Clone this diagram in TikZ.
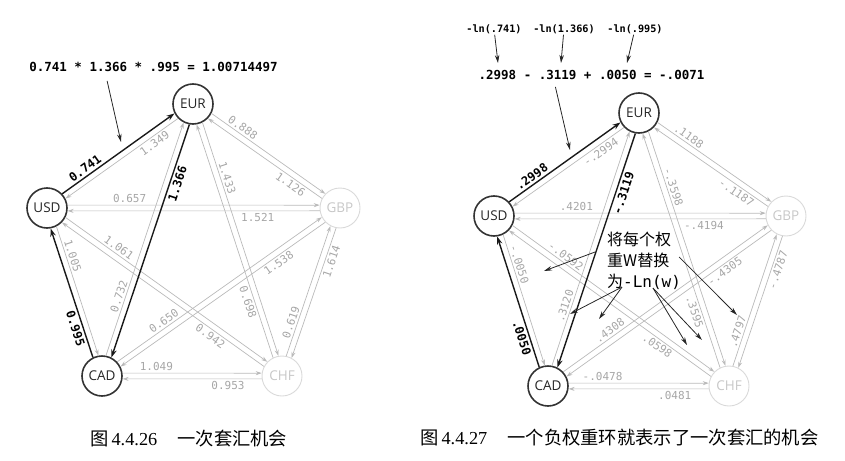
\documentclass[tikz,border=0pt]{standalone}
\usepackage{fontspec}
\setmainfont{Liberation Serif}
\newfontfamily\cfont{Open Sans}
\newfontfamily\mfont{DejaVu Sans Mono}
\newfontfamily\cjk{Noto Sans CJK SC}
\usetikzlibrary{positioning, arrows.meta, calc}

\tikzset{
  cur/.style={draw=black!80, circle, line width=1.6pt, minimum size=40pt, inner sep=0pt,
    text=black!85, font=\cfont\fontsize{13.5}{13.5}\selectfont},
  faded/.style={cur, draw=black!15, text=black!22, line width=0.9pt},
  gedge/.style={draw=black!27, line width=0.7pt, -{Stealth[length=6pt, width=4pt]}},
  hedge/.style={draw=black!90, line width=1.4pt, -{Stealth[length=8pt, width=5.5pt]}},
  wlabel/.style={sloped, pos=0.25, inner sep=0pt, text=black!35,
    font=\mfont\fontsize{11}{11}\selectfont},
  hlabel/.style={wlabel, text=black, font=\mfont\bfseries\fontsize{12}{12}\selectfont},
  pointer/.style={draw=black!85, line width=0.8pt, -{Stealth[length=8pt, width=4.5pt]}},
  formula/.style={font=\mfont\bfseries\fontsize{12.5}{12.5}\selectfont, inner sep=1pt},
  lnterm/.style={font=\mfont\bfseries\fontsize{10.2}{10.2}\selectfont, inner sep=1pt},
  caption/.style={font=\fontsize{18.3}{18.3}\selectfont, anchor=west, inner sep=0pt},
}

\begin{document}
\begin{tikzpicture}[x=10pt, y=-10pt]
  \useasboundingbox (0,0) rectangle (84.5,46);

  % Left graph: the exchange rates
  \node[cur] (lEUR) at (19.3,10.4) {EUR};
  \node[cur] (lUSD) at (4.7,20.8) {USD};
  \node[faded] (lGBP) at (34.0,20.8) {GBP};
  \node[cur] (lCAD) at (10.2,37.6) {CAD};
  \node[faded] (lCHF) at (28.2,37.6) {CHF};

  % every rate runs a little to the left of the line between the centres,
  % its label a little further left
  \foreach \a/\b/\w in {USD/GBP/0.657, USD/CHF/1.061, USD/CAD/1.005,
      EUR/USD/1.349, EUR/GBP/0.888, EUR/CHF/1.433,
      GBP/USD/1.521, GBP/EUR/1.126, GBP/CHF/1.614, GBP/CAD/1.538,
      CHF/USD/0.942, CHF/EUR/0.698, CHF/GBP/0.619, CHF/CAD/0.953,
      CAD/EUR/0.732, CAD/GBP/0.650, CAD/CHF/1.049}{
    \draw[gedge] let \p1=($(l\b)-(l\a)$), \n1={atan2(\y1,\x1)+8}, \n2={atan2(\y1,\x1)+172}
      in (l\a.\n1) -- (l\b.\n2);
    \path let \p1=($(l\b)-(l\a)$), \n1={atan2(\y1,\x1)+27}, \n2={atan2(\y1,\x1)+153}
      in (l\a.\n1) -- (l\b.\n2) node[wlabel] {\w};
  }
  \foreach \a/\b/\w in {USD/EUR/0.741, EUR/CAD/1.366, CAD/USD/0.995}{
    \draw[hedge] let \p1=($(l\b)-(l\a)$), \n1={atan2(\y1,\x1)+8}, \n2={atan2(\y1,\x1)+172}
      in (l\a.\n1) -- (l\b.\n2);
    \path let \p1=($(l\b)-(l\a)$), \n1={atan2(\y1,\x1)+30}, \n2={atan2(\y1,\x1)+150}
      in (l\a.\n1) -- (l\b.\n2) node[hlabel] {\w};
  }

  \node[formula] (fl) at (15.35,6.7) {0.741 * 1.366 * .995 = 1.00714497};
  \coordinate (tl) at (12.1,14.2);
  \draw[pointer] ([xshift=79pt,yshift=-8pt]fl.south west) -- (tl);

  \node[caption] (capl) at (9.0,43.9) {{\cjk 图}\,4.4.26\hspace{1.1em}{\cjk 一次套汇机会}};

  % Right graph: the same rates as -ln(w)
  \node[cur] (rEUR) at (63.9,11.3) {EUR};
  \node[cur] (rUSD) at (49.4,21.6) {USD};
  \node[faded] (rGBP) at (78.6,21.6) {GBP};
  \node[cur] (rCAD) at (54.8,38.6) {CAD};
  \node[faded] (rCHF) at (72.9,38.6) {CHF};

  \foreach \a/\b/\w in {USD/GBP/.4201, USD/CHF/-.0592, USD/CAD/-.0050,
      EUR/USD/-.2994, EUR/GBP/.1188, EUR/CHF/-.3598,
      GBP/USD/-.4194, GBP/EUR/-.1187, GBP/CHF/-.4787, GBP/CAD/-.4305,
      CHF/USD/.0598, CHF/EUR/.3595, CHF/GBP/.4797, CHF/CAD/.0481,
      CAD/EUR/.3120, CAD/GBP/.4308, CAD/CHF/-.0478}{
    \draw[gedge] let \p1=($(r\b)-(r\a)$), \n1={atan2(\y1,\x1)+8}, \n2={atan2(\y1,\x1)+172}
      in (r\a.\n1) -- (r\b.\n2);
    \path let \p1=($(r\b)-(r\a)$), \n1={atan2(\y1,\x1)+27}, \n2={atan2(\y1,\x1)+153}
      in (r\a.\n1) -- (r\b.\n2) node[wlabel] {\w};
  }
  \foreach \a/\b/\w in {USD/EUR/.2998, EUR/CAD/-.3119, CAD/USD/.0050}{
    \draw[hedge] let \p1=($(r\b)-(r\a)$), \n1={atan2(\y1,\x1)+8}, \n2={atan2(\y1,\x1)+172}
      in (r\a.\n1) -- (r\b.\n2);
    \path let \p1=($(r\b)-(r\a)$), \n1={atan2(\y1,\x1)+30}, \n2={atan2(\y1,\x1)+150}
      in (r\a.\n1) -- (r\b.\n2) node[hlabel] {\w};
  }

  \node[lnterm] (ln1) at (49.4,2.9) {-ln(.741)};
  \node[lnterm] (ln2) at (56.4,2.9) {-ln(1.366)};
  \node[lnterm] (ln3) at (63.5,2.9) {-ln(.995)};
  \node[formula] (fr) at (59.15,7.5) {.2998 - .3119 + .0050 = -.0071};
  \coordinate (a1) at (49.8,6.3);
  \coordinate (a2) at (56.1,6.3);
  \coordinate (a3) at (62.7,6.3);
  \foreach \i in {1,2,3}
    \draw[pointer] (ln\i) -- (a\i);
  \coordinate (tr) at (57.0,15.0);
  \draw[pointer] ([xshift=78pt,yshift=-6pt]fr.south west) -- (tr);

  % note with its pointers
  \node[anchor=north west, align=left, inner sep=0pt, font=\cjk\fontsize{16}{21}\selectfont]
    (note) at (60.7,23.2) {将每个权\\重W替换\\为{\mfont -Ln(w)}};
  \coordinate (t1) at (54.4,27.1);
  \coordinate (t2) at (57.0,31.4);
  \coordinate (t3) at (59.9,31.9);
  \coordinate (t4) at (68.7,34.5);
  \coordinate (t5) at (70.2,34.0);
  \coordinate (t6) at (73.7,31.5);
  \draw[pointer] ([xshift=-12pt,yshift=9pt]note.west) -- (t1);
  \draw[pointer] ([xshift=15pt,yshift=3pt]note.south west) -- (t2);
  \draw[pointer] ([xshift=15pt,yshift=3pt]note.south west) -- (t3);
  \draw[pointer] ([xshift=46pt,yshift=2pt]note.south west) -- (t4);
  \draw[pointer] ([xshift=46pt,yshift=2pt]note.south west) -- (t5);
  \draw[pointer] ([xshift=-2pt,yshift=4pt]note.east) -- (t6);

  \node[caption] (capr) at (42.0,43.8) {{\cjk 图}\,4.4.27\hspace{1.1em}{\cjk 一个负权重环就表示了一次套汇的机会}};
\end{tikzpicture}
\end{document}
